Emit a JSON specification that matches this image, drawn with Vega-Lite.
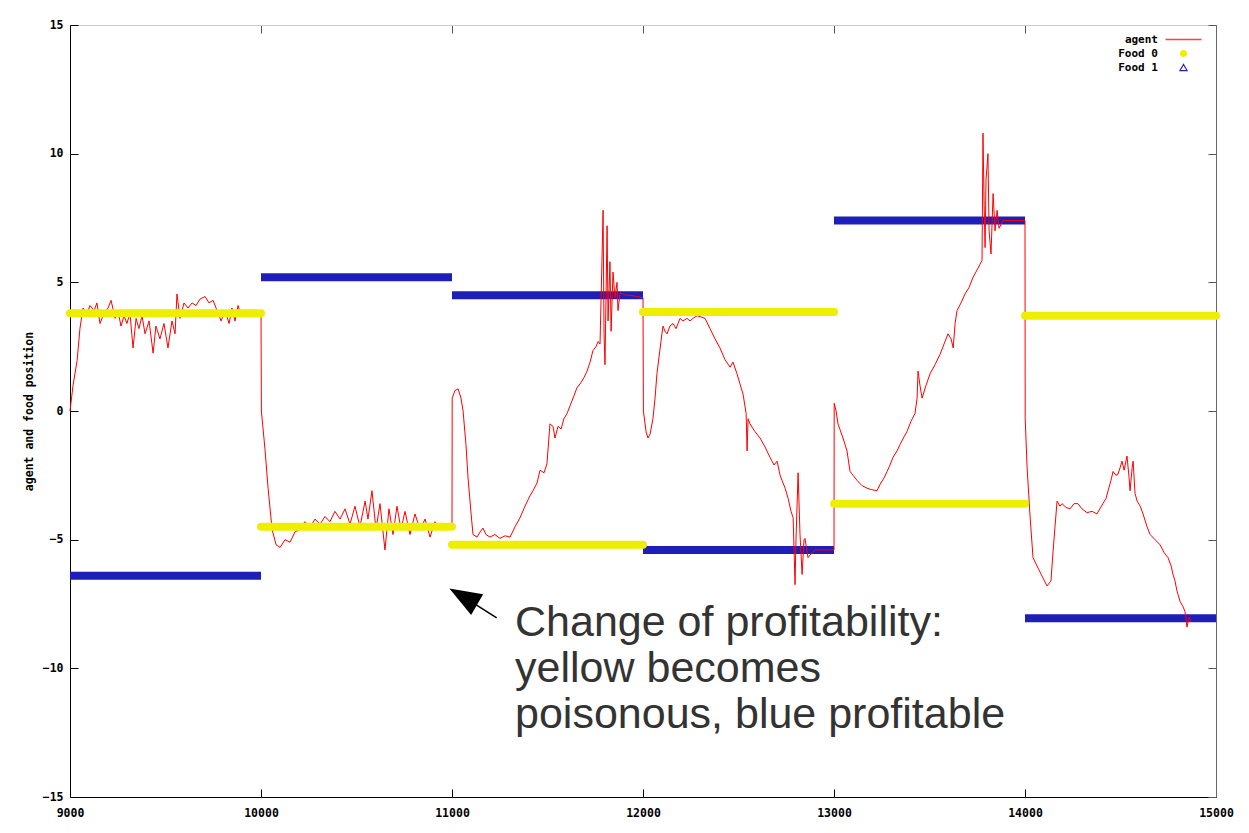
{
  "$schema": "https://vega.github.io/schema/vega-lite/v6.json",
  "width": 1146,
  "height": 772,
  "autosize": {"type": "none"},
  "padding": {"left": 70, "top": 25, "right": 33, "bottom": 36},
  "background": "white",
  "config": {
    "view": {"stroke": null},
    "axis": {
      "labelFont": "DejaVu Sans Mono",
      "labelFontWeight": "bold",
      "labelFontSize": 11.5,
      "labelColor": "#000",
      "labelFlush": false,
      "titleFont": "DejaVu Sans Mono",
      "titleFontWeight": "bold",
      "titleFontSize": 11.5,
      "titleColor": "#000",
      "tickColor": "#000",
      "tickSize": -8,
      "grid": false,
      "domainColor": "#000"
    }
  },
  "datasets": {
    "agent": [
      {"x": 9000, "y": 0.0}, {"x": 9016, "y": 1.0}, {"x": 9037, "y": 1.95}, {"x": 9052, "y": 3.2}, {"x": 9068, "y": 4.0},
      {"x": 9089, "y": 3.8}, {"x": 9105, "y": 4.1}, {"x": 9126, "y": 3.9}, {"x": 9141, "y": 4.2}, {"x": 9157, "y": 3.4},
      {"x": 9178, "y": 3.8}, {"x": 9199, "y": 4.0}, {"x": 9215, "y": 4.3}, {"x": 9236, "y": 3.6}, {"x": 9251, "y": 3.9},
      {"x": 9267, "y": 3.3}, {"x": 9283, "y": 3.7}, {"x": 9298, "y": 3.4}, {"x": 9314, "y": 3.8}, {"x": 9330, "y": 2.45},
      {"x": 9346, "y": 3.6}, {"x": 9361, "y": 3.2}, {"x": 9377, "y": 3.7}, {"x": 9393, "y": 3.0}, {"x": 9414, "y": 3.5},
      {"x": 9435, "y": 2.25}, {"x": 9450, "y": 3.3}, {"x": 9471, "y": 2.8}, {"x": 9492, "y": 3.4}, {"x": 9513, "y": 2.45},
      {"x": 9534, "y": 3.5}, {"x": 9550, "y": 3.0}, {"x": 9560, "y": 4.55}, {"x": 9576, "y": 3.6}, {"x": 9597, "y": 4.2},
      {"x": 9618, "y": 4.0}, {"x": 9639, "y": 4.2}, {"x": 9660, "y": 4.1}, {"x": 9681, "y": 4.35}, {"x": 9707, "y": 4.45},
      {"x": 9728, "y": 4.2}, {"x": 9749, "y": 4.3}, {"x": 9770, "y": 3.9}, {"x": 9791, "y": 3.5}, {"x": 9812, "y": 3.9},
      {"x": 9833, "y": 3.4}, {"x": 9848, "y": 4.0}, {"x": 9864, "y": 3.5}, {"x": 9880, "y": 4.1}, {"x": 9895, "y": 3.7},
      {"x": 9916, "y": 3.8}, {"x": 9942, "y": 3.8}, {"x": 9969, "y": 3.8}, {"x": 10000, "y": 3.8},
      {"x": 10002, "y": 0.0}, {"x": 10021, "y": -1.5}, {"x": 10037, "y": -3.0}, {"x": 10058, "y": -4.6}, {"x": 10079, "y": -5.2},
      {"x": 10100, "y": -5.3}, {"x": 10126, "y": -5.0}, {"x": 10152, "y": -5.1}, {"x": 10178, "y": -4.7}, {"x": 10204, "y": -4.6},
      {"x": 10230, "y": -4.3}, {"x": 10257, "y": -4.5}, {"x": 10283, "y": -4.2}, {"x": 10309, "y": -4.4}, {"x": 10335, "y": -4.1},
      {"x": 10361, "y": -4.3}, {"x": 10387, "y": -3.9}, {"x": 10414, "y": -4.2}, {"x": 10440, "y": -3.8}, {"x": 10466, "y": -4.4},
      {"x": 10492, "y": -3.7}, {"x": 10518, "y": -4.5}, {"x": 10545, "y": -3.5}, {"x": 10560, "y": -4.2}, {"x": 10581, "y": -3.1},
      {"x": 10602, "y": -4.6}, {"x": 10623, "y": -3.6}, {"x": 10649, "y": -5.4}, {"x": 10670, "y": -3.8}, {"x": 10691, "y": -4.8},
      {"x": 10712, "y": -3.7}, {"x": 10733, "y": -4.6}, {"x": 10754, "y": -3.9}, {"x": 10780, "y": -4.8}, {"x": 10806, "y": -4.0},
      {"x": 10833, "y": -4.6}, {"x": 10859, "y": -4.2}, {"x": 10885, "y": -4.9}, {"x": 10911, "y": -4.3}, {"x": 10937, "y": -4.6},
      {"x": 10969, "y": -4.4}, {"x": 11000, "y": -4.5},
      {"x": 11001, "y": 0.5}, {"x": 11016, "y": 0.8}, {"x": 11032, "y": 0.86}, {"x": 11047, "y": 0.5}, {"x": 11058, "y": 0.0},
      {"x": 11073, "y": -1.3}, {"x": 11084, "y": -2.6}, {"x": 11100, "y": -4.0}, {"x": 11110, "y": -4.8}, {"x": 11131, "y": -4.9},
      {"x": 11147, "y": -4.7}, {"x": 11162, "y": -4.55}, {"x": 11178, "y": -4.8}, {"x": 11199, "y": -4.9}, {"x": 11225, "y": -4.8},
      {"x": 11251, "y": -4.95}, {"x": 11278, "y": -4.85}, {"x": 11304, "y": -4.9}, {"x": 11330, "y": -4.5}, {"x": 11356, "y": -4.15},
      {"x": 11382, "y": -3.7}, {"x": 11408, "y": -3.3}, {"x": 11424, "y": -3.1}, {"x": 11445, "y": -2.8}, {"x": 11461, "y": -2.3},
      {"x": 11482, "y": -2.4}, {"x": 11497, "y": -2.05}, {"x": 11513, "y": -0.5}, {"x": 11529, "y": -0.6}, {"x": 11539, "y": -1.05},
      {"x": 11555, "y": -0.6}, {"x": 11571, "y": -0.7}, {"x": 11586, "y": -0.3}, {"x": 11602, "y": -0.1}, {"x": 11618, "y": 0.2},
      {"x": 11639, "y": 0.6}, {"x": 11654, "y": 0.9}, {"x": 11675, "y": 1.1}, {"x": 11691, "y": 1.3}, {"x": 11707, "y": 1.55},
      {"x": 11723, "y": 1.9}, {"x": 11738, "y": 2.35}, {"x": 11754, "y": 2.5}, {"x": 11765, "y": 2.7}, {"x": 11775, "y": 2.6},
      {"x": 11785, "y": 5.8}, {"x": 11791, "y": 7.8}, {"x": 11796, "y": 3.0}, {"x": 11801, "y": 1.8}, {"x": 11812, "y": 7.2},
      {"x": 11817, "y": 3.5}, {"x": 11827, "y": 5.8}, {"x": 11833, "y": 3.1}, {"x": 11843, "y": 5.4}, {"x": 11853, "y": 4.4},
      {"x": 11864, "y": 5.0}, {"x": 11869, "y": 3.9}, {"x": 11880, "y": 4.6}, {"x": 11906, "y": 4.5}, {"x": 11932, "y": 4.5},
      {"x": 12000, "y": 4.4},
      {"x": 12002, "y": 0.0}, {"x": 12016, "y": -0.8}, {"x": 12026, "y": -1.05}, {"x": 12037, "y": -0.9}, {"x": 12052, "y": -0.3},
      {"x": 12063, "y": 0.5}, {"x": 12073, "y": 1.45}, {"x": 12089, "y": 2.4}, {"x": 12099, "y": 3.0}, {"x": 12105, "y": 3.3},
      {"x": 12115, "y": 3.1}, {"x": 12126, "y": 3.0}, {"x": 12141, "y": 3.3}, {"x": 12157, "y": 3.4}, {"x": 12173, "y": 3.2},
      {"x": 12194, "y": 3.6}, {"x": 12209, "y": 3.5}, {"x": 12230, "y": 3.6}, {"x": 12246, "y": 3.5}, {"x": 12262, "y": 3.6},
      {"x": 12283, "y": 3.7}, {"x": 12304, "y": 3.65}, {"x": 12325, "y": 3.6}, {"x": 12351, "y": 3.2}, {"x": 12377, "y": 2.8},
      {"x": 12403, "y": 2.45}, {"x": 12429, "y": 2.0}, {"x": 12456, "y": 1.7}, {"x": 12471, "y": 1.9}, {"x": 12492, "y": 1.45},
      {"x": 12508, "y": 1.05}, {"x": 12524, "y": 0.65}, {"x": 12540, "y": -0.1}, {"x": 12545, "y": -1.55}, {"x": 12550, "y": -0.3},
      {"x": 12560, "y": -0.5}, {"x": 12586, "y": -0.8}, {"x": 12613, "y": -1.05}, {"x": 12639, "y": -1.4}, {"x": 12665, "y": -1.8},
      {"x": 12686, "y": -2.1}, {"x": 12702, "y": -1.95}, {"x": 12718, "y": -2.5}, {"x": 12728, "y": -2.7}, {"x": 12744, "y": -3.0},
      {"x": 12760, "y": -3.4}, {"x": 12775, "y": -3.9}, {"x": 12786, "y": -4.15}, {"x": 12796, "y": -6.75}, {"x": 12801, "y": -5.0},
      {"x": 12812, "y": -2.4}, {"x": 12822, "y": -4.8}, {"x": 12833, "y": -6.35}, {"x": 12843, "y": -5.0}, {"x": 12848, "y": -4.95},
      {"x": 12864, "y": -5.7}, {"x": 12874, "y": -5.6}, {"x": 12901, "y": -5.4}, {"x": 13000, "y": -5.4},
      {"x": 13001, "y": 0.3}, {"x": 13011, "y": 0.0}, {"x": 13021, "y": -0.5}, {"x": 13047, "y": -1.05}, {"x": 13068, "y": -1.55},
      {"x": 13084, "y": -2.35}, {"x": 13100, "y": -2.5}, {"x": 13121, "y": -2.7}, {"x": 13147, "y": -2.9}, {"x": 13173, "y": -3.0},
      {"x": 13194, "y": -3.05}, {"x": 13225, "y": -3.1}, {"x": 13241, "y": -2.85}, {"x": 13262, "y": -2.6}, {"x": 13278, "y": -2.35},
      {"x": 13293, "y": -2.1}, {"x": 13309, "y": -1.8}, {"x": 13330, "y": -1.55}, {"x": 13346, "y": -1.3}, {"x": 13367, "y": -1.0},
      {"x": 13382, "y": -0.8}, {"x": 13403, "y": -0.4}, {"x": 13424, "y": -0.1}, {"x": 13435, "y": 0.5}, {"x": 13440, "y": 1.55},
      {"x": 13450, "y": 1.0}, {"x": 13461, "y": 0.5}, {"x": 13482, "y": 1.0}, {"x": 13503, "y": 1.45}, {"x": 13529, "y": 1.8},
      {"x": 13555, "y": 2.2}, {"x": 13576, "y": 2.6}, {"x": 13597, "y": 3.0}, {"x": 13613, "y": 2.8}, {"x": 13624, "y": 2.45},
      {"x": 13634, "y": 3.4}, {"x": 13644, "y": 3.9}, {"x": 13665, "y": 4.2}, {"x": 13686, "y": 4.55}, {"x": 13707, "y": 4.8},
      {"x": 13728, "y": 5.2}, {"x": 13743, "y": 5.4}, {"x": 13754, "y": 5.55}, {"x": 13764, "y": 5.7}, {"x": 13775, "y": 5.85},
      {"x": 13780, "y": 10.8}, {"x": 13786, "y": 8.0}, {"x": 13791, "y": 6.35}, {"x": 13796, "y": 9.0}, {"x": 13806, "y": 10.0},
      {"x": 13812, "y": 7.0}, {"x": 13822, "y": 6.1}, {"x": 13833, "y": 8.45}, {"x": 13843, "y": 7.0}, {"x": 13854, "y": 7.8},
      {"x": 13864, "y": 7.1}, {"x": 13885, "y": 7.4}, {"x": 14000, "y": 7.4},
      {"x": 14001, "y": -0.3}, {"x": 14011, "y": -2.2}, {"x": 14027, "y": -4.15}, {"x": 14042, "y": -5.7}, {"x": 14068, "y": -6.1},
      {"x": 14095, "y": -6.5}, {"x": 14115, "y": -6.8}, {"x": 14136, "y": -6.6}, {"x": 14147, "y": -5.45}, {"x": 14157, "y": -4.5},
      {"x": 14168, "y": -3.5}, {"x": 14183, "y": -3.7}, {"x": 14194, "y": -3.6}, {"x": 14215, "y": -3.75}, {"x": 14236, "y": -3.8},
      {"x": 14257, "y": -3.6}, {"x": 14277, "y": -3.6}, {"x": 14298, "y": -3.8}, {"x": 14325, "y": -3.95}, {"x": 14351, "y": -3.9},
      {"x": 14377, "y": -4.0}, {"x": 14392, "y": -3.8}, {"x": 14408, "y": -3.6}, {"x": 14424, "y": -3.4}, {"x": 14435, "y": -3.1},
      {"x": 14450, "y": -2.7}, {"x": 14461, "y": -2.35}, {"x": 14476, "y": -2.5}, {"x": 14487, "y": -2.45}, {"x": 14498, "y": -2.2},
      {"x": 14508, "y": -1.95}, {"x": 14519, "y": -2.3}, {"x": 14534, "y": -1.75}, {"x": 14545, "y": -2.6}, {"x": 14550, "y": -3.1},
      {"x": 14561, "y": -2.2}, {"x": 14566, "y": -1.95}, {"x": 14576, "y": -3.2}, {"x": 14587, "y": -3.5}, {"x": 14603, "y": -3.7},
      {"x": 14618, "y": -4.0}, {"x": 14639, "y": -4.5}, {"x": 14655, "y": -4.8}, {"x": 14681, "y": -5.0}, {"x": 14707, "y": -5.2},
      {"x": 14728, "y": -5.5}, {"x": 14749, "y": -5.7}, {"x": 14764, "y": -6.0}, {"x": 14775, "y": -6.35}, {"x": 14785, "y": -6.6},
      {"x": 14796, "y": -7.0}, {"x": 14812, "y": -7.4}, {"x": 14827, "y": -7.6}, {"x": 14838, "y": -7.8}, {"x": 14848, "y": -8.4},
      {"x": 14859, "y": -8.0}, {"x": 14869, "y": -8.2}
    ],
    "food": [
      {"series": "Food 0", "start": 9000, "end": 10000, "y": 3.8},
      {"series": "Food 0", "start": 10000, "end": 11000, "y": -4.5},
      {"series": "Food 0", "start": 11000, "end": 12000, "y": -5.2},
      {"series": "Food 0", "start": 12000, "end": 13000, "y": 3.85},
      {"series": "Food 0", "start": 13000, "end": 14000, "y": -3.6},
      {"series": "Food 0", "start": 14000, "end": 15000, "y": 3.7},
      {"series": "Food 1", "start": 9000, "end": 10000, "y": -6.4},
      {"series": "Food 1", "start": 10000, "end": 11000, "y": 5.2},
      {"series": "Food 1", "start": 11000, "end": 12000, "y": 4.5},
      {"series": "Food 1", "start": 12000, "end": 13000, "y": -5.4},
      {"series": "Food 1", "start": 13000, "end": 14000, "y": 7.4},
      {"series": "Food 1", "start": 14000, "end": 15000, "y": -8.05}
    ],
    "arrow": [
      {"x": 11234, "y": -8.04, "hx": 11059, "hy": -7.21}
    ],
    "note": [
      {"x": 11330, "y": -8.74, "text": ["Change of profitability:", "yellow becomes", "poisonous, blue profitable"]}
    ]
  },
  "layer": [
    {
      "data": {"name": "food"},
      "transform": [{"filter": "datum.series === 'Food 1'"}],
      "mark": {"type": "rule", "strokeWidth": 8, "strokeCap": "butt"},
      "encoding": {
        "x": {"field": "start", "type": "quantitative", "scale": {"domain": [9000, 15000], "nice": false, "zero": false},
              "axis": {"orient": "bottom", "title": null, "values": [9000, 10000, 11000, 12000, 13000, 14000, 15000], "format": "d", "labelPadding": 18}},
        "x2": {"field": "end"},
        "y": {"field": "y", "type": "quantitative", "scale": {"domain": [-15, 15], "nice": false, "zero": false},
              "axis": {"orient": "left", "title": "agent and food position", "values": [-15, -10, -5, 0, 5, 10, 15], "labelPadding": 15, "titlePadding": 8}},
        "color": {"field": "series", "type": "nominal",
                  "scale": {"domain": ["agent", "Food 0", "Food 1"], "range": ["#ff0000", "#eeee00", "#1e1eb8"]},
                  "legend": {
                    "orient": "top-right", "offset": 9, "title": null,
                    "labelFont": "DejaVu Sans Mono", "labelFontWeight": "bold", "labelFontSize": 11, "labelColor": "#000",
                    "labelAlign": "right", "labelOffset": -31, "symbolSize": 36, "rowPadding": 2,
                    "encode": {"symbols": {"update": {
                      "shape": {"signal": "datum.value === 'agent' ? 'M-6,-0.22H6V0.22H-6ZM7.6,0' : datum.value === 'Food 0' ? 'circle' : 'triangle-up'"},
                      "fill": {"signal": "datum.value === 'agent' ? '#ff4040' : datum.value === 'Food 0' ? '#eeee00' : 'transparent'"},
                      "stroke": {"signal": "datum.value === 'agent' ? 'transparent' : datum.value === 'Food 0' ? '#eeee00' : '#1e1eb8'"},
                      "strokeWidth": {"signal": "datum.value === 'agent' ? 0 : 1.2"},
                      "size": {"signal": "datum.value === 'Food 1' ? 50 : 36"},
                      "opacity": {"value": 1}
                    }}}
                  }}
      }
    },
    {
      "data": {"name": "agent"},
      "mark": {"type": "line", "strokeWidth": 1, "interpolate": "linear"},
      "encoding": {
        "x": {"field": "x", "type": "quantitative",
              "axis": {"orient": "top", "title": null, "labels": false, "values": [9000, 10000, 11000, 12000, 13000, 14000, 15000], "domainColor": "#cccccc", "tickColor": "#555"}},
        "y": {"field": "y", "type": "quantitative",
              "axis": {"orient": "right", "title": null, "labels": false, "values": [-15, -10, -5, 0, 5, 10, 15], "domainColor": "#666", "tickColor": "#555"}},
        "color": {"datum": "agent"}
      }
    },
    {
      "data": {"name": "food"},
      "transform": [{"filter": "datum.series === 'Food 0'"}],
      "mark": {"type": "rule", "strokeWidth": 8, "strokeCap": "round"},
      "encoding": {
        "x": {"field": "start", "type": "quantitative", "axis": null},
        "x2": {"field": "end"},
        "y": {"field": "y", "type": "quantitative", "axis": null},
        "color": {"field": "series", "type": "nominal"}
      }
    },
    {
      "data": {"name": "arrow"},
      "mark": {"type": "rule", "strokeWidth": 1.5, "color": "#000"},
      "encoding": {
        "x": {"field": "x", "type": "quantitative", "axis": null},
        "y": {"field": "y", "type": "quantitative", "axis": null},
        "x2": {"field": "hx"},
        "y2": {"field": "hy"}
      }
    },
    {
      "data": {"name": "arrow"},
      "mark": {"type": "point", "shape": "M0,-1L0.75,1L-0.75,1Z", "filled": true, "color": "#000", "opacity": 1, "size": 1024, "angle": 300},
      "encoding": {
        "x": {"field": "hx", "type": "quantitative", "axis": null},
        "y": {"field": "hy", "type": "quantitative", "axis": null}
      }
    },
    {
      "data": {"name": "note"},
      "mark": {"type": "text", "align": "left", "baseline": "alphabetic", "font": "Liberation Sans", "fontSize": 43, "lineHeight": 46, "color": "#333333"},
      "encoding": {
        "x": {"field": "x", "type": "quantitative", "axis": null},
        "y": {"field": "y", "type": "quantitative", "axis": null},
        "text": {"field": "text"}
      }
    }
  ],
  "resolve": {"axis": {"x": "independent", "y": "independent"}}
}
